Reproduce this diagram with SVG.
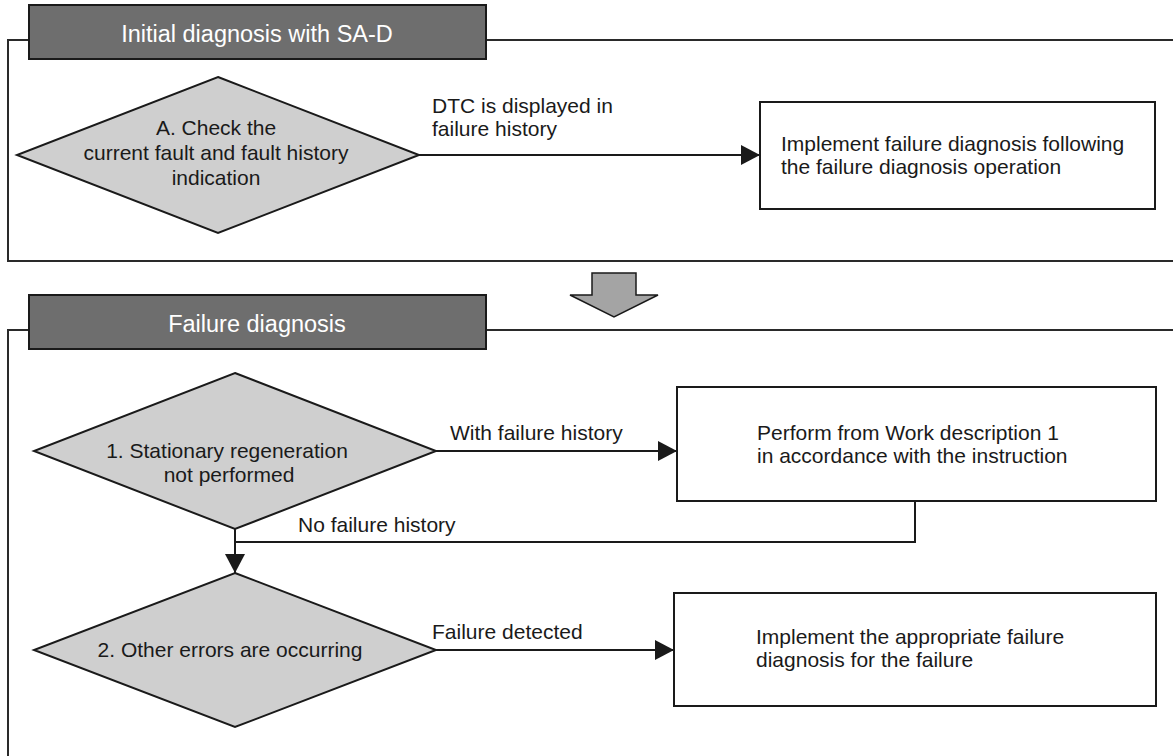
<svg xmlns="http://www.w3.org/2000/svg" width="1173" height="756" viewBox="0 0 1173 756">
<style>
  .bg{fill:#ffffff}
  .frame{fill:none;stroke:#2a2a2a;stroke-width:2}
  .hdr{fill:#6e6e6e;stroke:#1a1a1a;stroke-width:2}
  .hdrtxt{font-family:"Liberation Sans",Arial,sans-serif;font-size:23.5px;fill:#ffffff;text-anchor:middle}
  .dia{fill:#cfcfcf;stroke:#1a1a1a;stroke-width:2}
  .box{fill:#ffffff;stroke:#1a1a1a;stroke-width:2}
  .txt{font-family:"Liberation Sans",Arial,sans-serif;font-size:21px;fill:#1a1a1a}
  .mid{text-anchor:middle}
  .conn{fill:none;stroke:#1a1a1a;stroke-width:2}
  .big{fill:#a4a4a4;stroke:#1a1a1a;stroke-width:1.5}
</style>
<defs>
  <marker id="ah" markerUnits="userSpaceOnUse" markerWidth="20" markerHeight="20" refX="19" refY="10" orient="auto">
    <path d="M0,0 L19,10 L0,20 z" fill="#1a1a1a"/>
  </marker>
</defs>
<rect class="bg" x="0" y="0" width="1173" height="756"/>

<g id="section1">
  <path class="frame" d="M29,40 H8 V261 H1173 M486,40 H1173"/>
  <g id="header1">
    <rect class="hdr" x="29" y="5" width="457" height="54"/>
    <text class="hdrtxt" x="257" y="42">Initial diagnosis with SA-D</text>
  </g>
</g>

<g id="section2">
  <path class="frame" d="M29,330 H8 V756 M486,330 H1173"/>
  <g id="header2">
    <rect class="hdr" x="29" y="295" width="457" height="54"/>
    <text class="hdrtxt" x="257" y="332">Failure diagnosis</text>
  </g>
</g>

<g id="bigArrow">
  <path class="big" d="M592,273 H636 V295 H658 L614,317 L570,295 H592 Z"/>
</g>

<g id="connectors">
  <path class="conn" d="M419,155 H760" marker-end="url(#ah)"/>
  <path class="conn" d="M436,451 H677" marker-end="url(#ah)"/>
  <path class="conn" d="M915,501 V542 H235"/>
  <path class="conn" d="M235,529 V573" marker-end="url(#ah)"/>
  <path class="conn" d="M436,650 H674" marker-end="url(#ah)"/>
  <text class="txt" x="432" y="113">DTC is displayed in</text>
  <text class="txt" x="432" y="136">failure history</text>
  <text class="txt" x="450" y="440">With failure history</text>
  <text class="txt" x="298" y="532">No failure history</text>
  <text class="txt" x="432" y="639">Failure detected</text>
</g>

<g id="nodeA">
  <polygon class="dia" points="218,77 419,155 218,233 17,155"/>
  <text class="txt mid" x="216" y="135">A. Check the</text>
  <text class="txt mid" x="216" y="160">current fault and fault history</text>
  <text class="txt mid" x="216" y="185">indication</text>
</g>

<g id="box1">
  <rect class="box" x="760" y="102" width="395" height="107"/>
  <text class="txt" x="781" y="151">Implement failure diagnosis following</text>
  <text class="txt" x="781" y="174">the failure diagnosis operation</text>
</g>

<g id="node1">
  <polygon class="dia" points="235,373 436,451 235,529 34,451"/>
  <text class="txt mid" x="227" y="458">1. Stationary regeneration</text>
  <text class="txt mid" x="229" y="482">not performed</text>
</g>

<g id="box2">
  <rect class="box" x="677" y="387" width="479" height="114"/>
  <text class="txt" x="757" y="440">Perform from Work description 1</text>
  <text class="txt" x="757" y="463">in accordance with the instruction</text>
</g>

<g id="node2">
  <polygon class="dia" points="235,573 436,650 235,727 34,650"/>
  <text class="txt mid" x="230" y="657">2. Other errors are occurring</text>
</g>

<g id="box3">
  <rect class="box" x="674" y="593" width="482" height="113"/>
  <text class="txt" x="756" y="644">Implement the appropriate failure</text>
  <text class="txt" x="756" y="667">diagnosis for the failure</text>
</g>
</svg>
